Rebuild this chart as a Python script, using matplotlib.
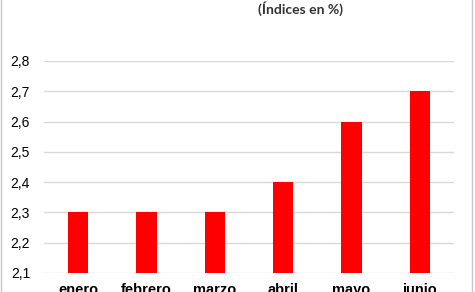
import matplotlib.pyplot as plt
from matplotlib.patches import Rectangle

plt.rcParams["font.family"] = ["Liberation Sans", "DejaVu Sans"]

# monthly index values (%)
meses = ["enero", "febrero", "marzo", "abril", "mayo", "junio"]
valores = [2.3, 2.3, 2.3, 2.4, 2.6, 2.7]
yticks = [2.1, 2.2, 2.3, 2.4, 2.5, 2.6, 2.7, 2.8]

fig = plt.figure(figsize=(4.75, 2.92), dpi=100)
ax = fig.add_axes([44 / 475, 1 - 273 / 292, (454 - 44) / 475, (273 - 61) / 292])

ax.bar(range(len(meses)), valores, width=0.3, color="#ff0000", zorder=3)
ax.set_xlim(-0.5, 5.5)
ax.set_ylim(2.1, 2.8)
ax.set_yticks(yticks)
ax.set_yticklabels([f"{v:.1f}".replace(".", ",") for v in yticks], fontsize=10)
ax.set_xticks(range(len(meses)))
ax.set_xticklabels(meses, fontsize=10.5, fontweight="bold")
ax.tick_params(length=0)
ax.tick_params(axis="y", pad=10)
ax.tick_params(axis="x", pad=7.5)
ax.grid(axis="y", color="#d9d9d9", linewidth=1, zorder=0)
for s in ax.spines.values():
    s.set_visible(False)

fig.text(300 / 475, 1 - 9 / 292, "(Índices en %)", ha="center", va="center",
         fontsize=10, fontweight="bold", fontfamily=["Lato", "DejaVu Sans"],
         color="#333333")
fig.patches.append(Rectangle((0.003, -0.1), 0.991, 1.2, transform=fig.transFigure,
                             fill=False, edgecolor="#c8c8c8", linewidth=1))

fig.savefig("out.png", dpi=100)
